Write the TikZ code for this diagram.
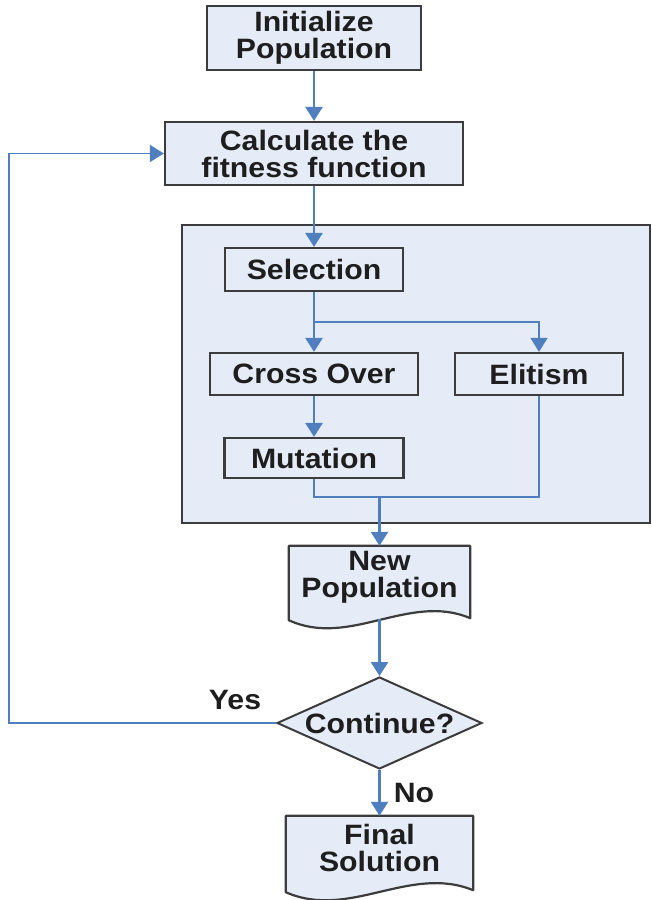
\documentclass[tikz,border=0pt]{standalone}
\usepackage{fontspec}
\newfontfamily\diagfont[FakeStretch=1.08]{Liberation Sans}
\usetikzlibrary{arrows.meta,shapes.geometric,calc,backgrounds}
\definecolor{boxfill}{HTML}{E6ECF7}
\definecolor{boxline}{HTML}{3C3C3C}
\definecolor{flowblue}{HTML}{4F7FBE}
\definecolor{textdark}{HTML}{1E1E1E}
\begin{document}
\begin{tikzpicture}[x=1pt,y=-1pt,
  every node/.style={font=\diagfont\bfseries\fontsize{28}{27}\selectfont,
    text=textdark, align=center, inner sep=0pt},
  procbox/.style={draw=boxline, line width=2.2pt, fill=boxfill},
  docline/.style={draw=boxline, line width=2.2pt, fill=boxfill, line join=round},
  decision/.style={draw=boxline, line width=2pt, fill=boxfill, shape=diamond,
    aspect=2.23, minimum width=205pt, minimum height=92pt},
  tip/.style={-{Triangle[width=17pt,length=14pt]}},
  flow/.style={draw=flowblue, line width=2.6pt, tip},
  thinflow/.style={draw=flowblue, line width=1.5pt},
]
\useasboundingbox (0,0) rectangle (652,900);

% enclosing stage of the genetic operators
\node[procbox, minimum width=468pt, minimum height=298pt] (stage) at (416,374) {};

% process boxes
\node[procbox, minimum width=214pt, minimum height=64pt] (init) at (314,38) {Initialize\\Population};
\node[procbox, minimum width=298pt, minimum height=63pt] (calc) at (314,153.5) {Calculate the\\fitness function};
\node[procbox, minimum width=178pt, minimum height=43pt] (sel) at (314,269.5) {Selection};
\node[procbox, minimum width=208pt, minimum height=42pt] (cross) at (314,374) {Cross Over};
\node[procbox, minimum width=179pt, minimum height=40pt] (mut) at (314,458) {Mutation};
\node[procbox, minimum width=168pt, minimum height=42pt] (elit) at (539,374) {Elitism};

% document shapes
\node[minimum width=181pt, minimum height=62pt] (newpop) at (379.5,577) {New\\Population};
\node[minimum width=187pt, minimum height=64pt] (final) at (379.5,848) {Final\\Solution};
\begin{scope}[on background layer]
  \foreach \d in {newpop,final}{
    \draw[docline] (\d.north west) -- (\d.north east) -- ($(\d.south east)+(0,10)$)
      .. controls ($(\d.south)+(30,-16)$) and ($(\d.south)+(-30,40)$) ..
      ($(\d.south west)+(0,12)$) -- cycle;
  }
\end{scope}

% decision
\node[decision] (cont) at (379.5,723) {Continue?};

% connectors
\draw[flow] (init) -- (calc);
\draw[flow] (calc) -- (sel);
\draw[flow] (sel) -- (cross);
\coordinate (branch) at ($(sel.south)!0.5!(cross.north)$);
\draw[thinflow, tip] (branch) -| (elit.north);
\draw[flow] (cross) -- (mut);
\coordinate (join) at (379.5,497);
\draw[thinflow] (mut.south) |- (join) -| (elit.south);
\draw[flow] (join) -- (newpop.north);
\coordinate (npbase) at ($(newpop.south)+(0,11)$);
\draw[flow] (npbase) -- (cont.north);
\draw[flow] (cont.south) -- (final.north)
  node[midway, anchor=west, xshift=13pt] (no) {No};
\coordinate (loopcorner) at (9,723);
\draw[thinflow, tip] (cont.west) -- (loopcorner) |- (calc.west);
\node (yes) at (235,700) {Yes};
\end{tikzpicture}
\end{document}
